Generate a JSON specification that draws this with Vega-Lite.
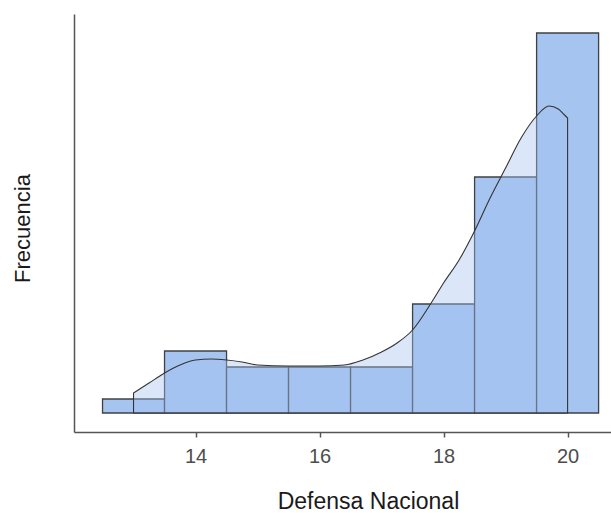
{
  "$schema": "https://vega.github.io/schema/vega-lite/v6.json",
  "width": 537,
  "height": 418,
  "autosize": {"type": "none"},
  "padding": {"left": 74, "top": 14, "right": 0, "bottom": 81},
  "background": "white",
  "config": {
    "view": {"stroke": null},
    "font": "Liberation Sans"
  },
  "datasets": {
    "bars": [
      {"bin_start": 12.5, "bin_end": 13.5, "freq": 14},
      {"bin_start": 13.5, "bin_end": 14.5, "freq": 62},
      {"bin_start": 14.5, "bin_end": 15.5, "freq": 46},
      {"bin_start": 15.5, "bin_end": 16.5, "freq": 46},
      {"bin_start": 16.5, "bin_end": 17.5, "freq": 46},
      {"bin_start": 17.5, "bin_end": 18.5, "freq": 109},
      {"bin_start": 18.5, "bin_end": 19.5, "freq": 236},
      {"bin_start": 19.5, "bin_end": 20.5, "freq": 380}
    ],
    "dens": [
      {"x": 13.0, "d": 20},
      {"x": 13.25, "d": 30},
      {"x": 13.5, "d": 40},
      {"x": 13.75, "d": 48},
      {"x": 14.0, "d": 53},
      {"x": 14.25, "d": 54},
      {"x": 14.5, "d": 53},
      {"x": 14.75, "d": 51},
      {"x": 15.0, "d": 48},
      {"x": 15.5, "d": 47},
      {"x": 16.0, "d": 47},
      {"x": 16.4, "d": 48},
      {"x": 16.7, "d": 53},
      {"x": 17.0, "d": 61},
      {"x": 17.25, "d": 70},
      {"x": 17.5, "d": 83},
      {"x": 17.8, "d": 110},
      {"x": 18.0, "d": 130},
      {"x": 18.25, "d": 153},
      {"x": 18.5, "d": 182},
      {"x": 18.75, "d": 215},
      {"x": 19.0, "d": 245},
      {"x": 19.25, "d": 275},
      {"x": 19.5, "d": 297},
      {"x": 19.7, "d": 307},
      {"x": 19.85, "d": 304},
      {"x": 19.95, "d": 298},
      {"x": 20.0, "d": 295}
    ]
  },
  "layer": [
    {
      "data": {"name": "bars"},
      "mark": {"type": "rect", "fill": "#a5c4f0", "stroke": "#404040", "strokeWidth": 1.3},
      "encoding": {
        "x": {
          "field": "bin_start",
          "type": "quantitative",
          "scale": {"domain": [12.04, 20.7], "nice": false, "zero": false},
          "axis": {
            "title": "Defensa Nacional",
            "values": [14, 16, 18, 20],
            "format": "d",
            "grid": false,
            "domainColor": "#555555",
            "domainWidth": 1.5,
            "tickColor": "#555555",
            "tickWidth": 1.5,
            "tickSize": 5,
            "labelFontSize": 20,
            "labelColor": "#4d4d4d",
            "labelPadding": 9,
            "titleFontSize": 23,
            "titleFontWeight": "normal",
            "titleColor": "#1a1a1a",
            "titleX": 294,
            "titleY": 69,
            "titleAlign": "center",
            "titleBaseline": "middle"
          }
        },
        "x2": {"field": "bin_end"},
        "y": {
          "field": "freq",
          "type": "quantitative",
          "scale": {"domain": [-19, 399], "nice": false, "zero": false},
          "axis": {
            "title": "Frecuencia",
            "labels": false,
            "ticks": false,
            "grid": false,
            "domainColor": "#555555",
            "domainWidth": 1.5,
            "titleFontSize": 22,
            "titleFontWeight": "normal",
            "titleColor": "#1a1a1a",
            "titleAngle": -90,
            "titleX": -52,
            "titleY": 214,
            "titleAlign": "center",
            "titleBaseline": "middle"
          }
        },
        "y2": {"datum": 0}
      }
    },
    {
      "data": {"name": "dens"},
      "mark": {"type": "area", "fill": "#a5c4f0", "fillOpacity": 0.4, "stroke": "#333333", "strokeWidth": 1.1, "interpolate": "monotone"},
      "encoding": {
        "x": {"field": "x", "type": "quantitative"},
        "y": {"field": "d", "type": "quantitative"},
        "y2": {"datum": 0}
      }
    }
  ]
}
